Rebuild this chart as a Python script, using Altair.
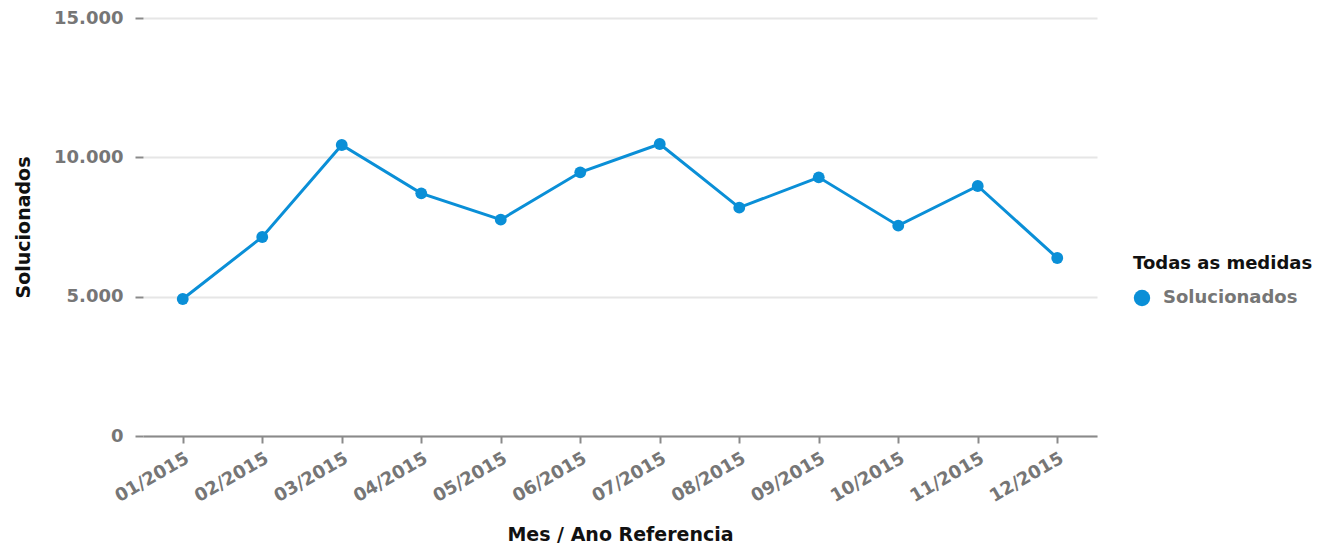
import altair as alt
import pandas as pd

months = ["01/2015", "02/2015", "03/2015", "04/2015", "05/2015", "06/2015",
          "07/2015", "08/2015", "09/2015", "10/2015", "11/2015", "12/2015"]
solucionados = [4916, 7141, 10443, 8708, 7763, 9462, 10478, 8194, 9282, 7548, 8971, 6388]
series_name = ["Solucionados"] * len(months)

df = pd.DataFrame({"mes": months, "valor": solucionados, "medida": series_name})

BLUE = "#0a8fd7"
FONT = "DejaVu Sans"

x_enc = alt.X("mes:O", sort=None, title="Mes / Ano Referencia",
              scale=alt.Scale(type="point", padding=0.5),
              axis=alt.Axis(labelAngle=-30, labelFontSize=18, labelFontWeight="bold",
                            labelColor="#767676", labelFont=FONT,
                            titleFont=FONT, titleFontSize=19, titleFontWeight="bold",
                            titleColor="#111111", titlePadding=20,
                            domainColor="#8a8a8a", domainWidth=2,
                            tickColor="#8a8a8a", tickWidth=2, tickSize=7,
                            labelPadding=6, grid=False))
y_enc = alt.Y("valor:Q", title="Solucionados",
              scale=alt.Scale(domain=[0, 15000], nice=False),
              axis=alt.Axis(values=[0, 5000, 10000, 15000],
                            labelExpr="replace(format(datum.value, ','), ',', '.')",
                            labelFontSize=18, labelFontWeight="bold", labelColor="#767676",
                            labelFont=FONT, labelPadding=12,
                            titleFont=FONT, titleFontSize=19, titleFontWeight="bold",
                            titleColor="#111111", titlePadding=20,
                            domain=False, tickColor="#8a8a8a", tickWidth=2, tickSize=8,
                            grid=True, gridColor="#e6e6e6", gridWidth=2))

color_enc = alt.Color("medida:N", title="Todas as medidas",
                      scale=alt.Scale(range=[BLUE]),
                      legend=alt.Legend(orient="none", legendX=990, legendY=237,
                                        titleFont=FONT, titleFontSize=18, titleFontWeight="bold",
                                        titleColor="#111111", titlePadding=16, titleLimit=400,
                                        labelFont=FONT, labelFontSize=18, labelFontWeight="bold",
                                        labelColor="#767676", labelOffset=12, labelLimit=400,
                                        symbolType="circle", symbolSize=270,
                                        symbolFillColor=BLUE, symbolStrokeWidth=0))

line = alt.Chart(df).mark_line(strokeWidth=3, color=BLUE).encode(x=x_enc, y=y_enc)
points = alt.Chart(df).mark_point(filled=True, size=140, opacity=1).encode(
    x=x_enc, y=y_enc, color=color_enc)

chart = (line + points).properties(
    width=954, height=418,
    autosize=alt.AutoSizeParams(type="none"),
    padding={"left": 135, "top": 10, "right": 226, "bottom": 112},
).configure_view(stroke=None)

chart.save("out.html", embed_options={"renderer": "svg", "actions": False})
